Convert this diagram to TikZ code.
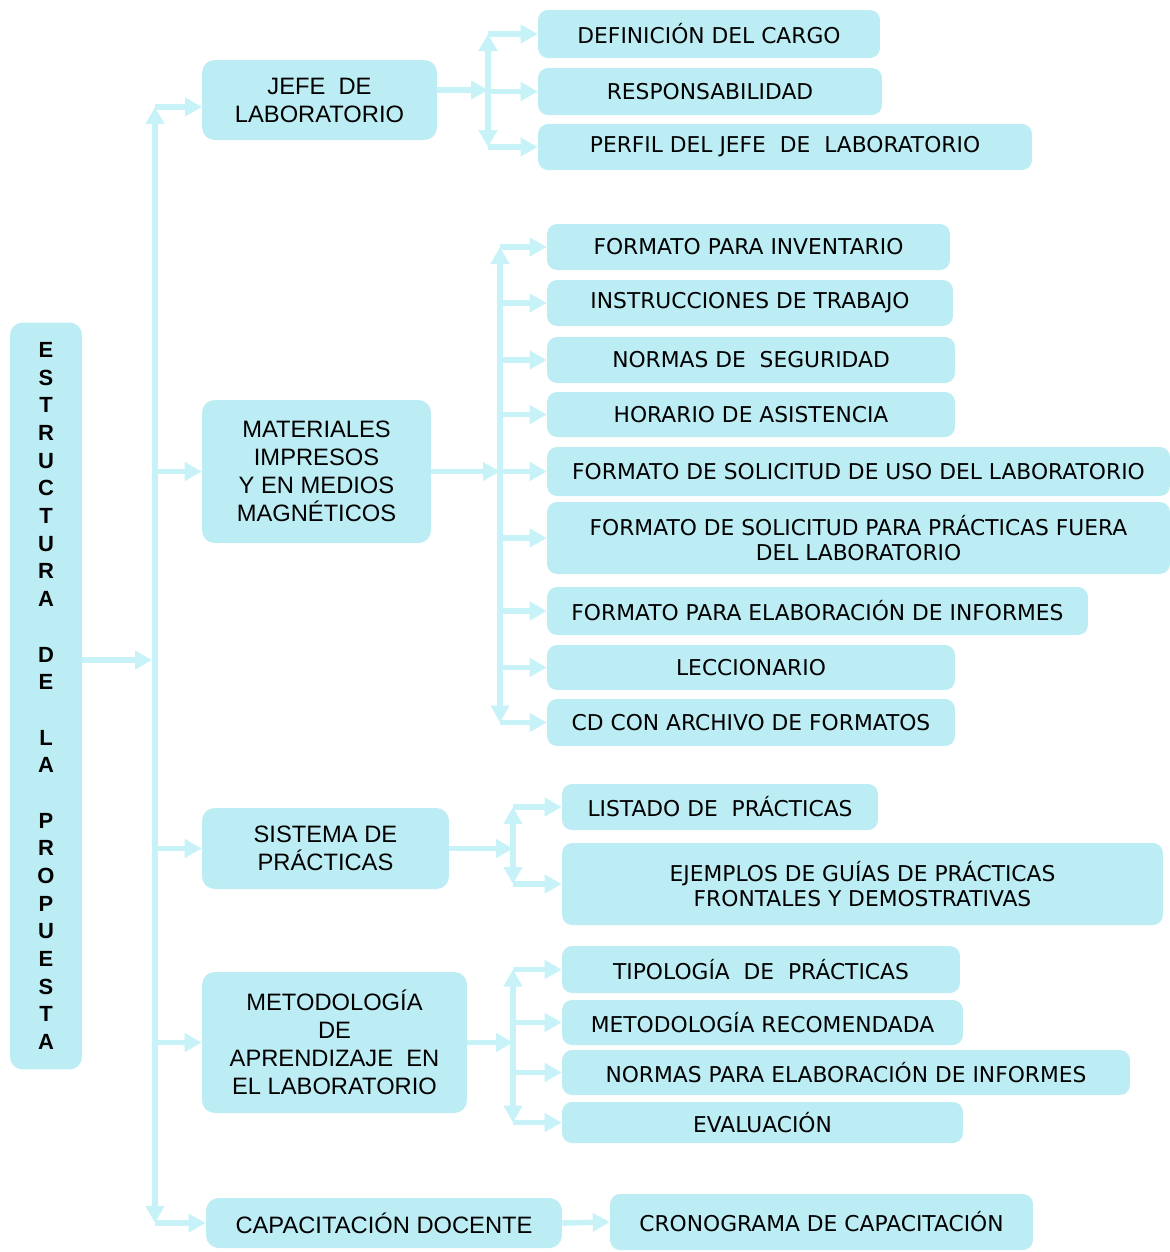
\documentclass[tikz,border=0pt]{standalone}
\usepackage{fontspec}
\newfontfamily\arialf{Liberation Sans}
\newfontfamily\verdf{DejaVu Sans}
\usetikzlibrary{arrows.meta}
\definecolor{boxcyan}{RGB}{189,237,244}
\definecolor{arrowcyan}{RGB}{198,242,248}
\tikzset{
  mainbox/.style={fill=boxcyan, rounded corners=0.25cm, align=center, inner sep=0pt, font=\arialf\fontsize{13.5}{15.9}\selectfont},
  itembox/.style={fill=boxcyan, rounded corners=0.2cm, align=center, inner sep=0pt, font=\verdf\fontsize{12.4}{14.3}\selectfont},
  link/.style={arrowcyan, line width=0.11cm, -{Triangle[length=0.34cm,width=0.36cm]}},
  spine/.style={arrowcyan, line width=0.11cm, {Triangle[length=0.34cm,width=0.36cm]}-{Triangle[length=0.34cm,width=0.36cm]}},
}
\begin{document}
\begin{tikzpicture}[x=0.02cm, y={(0cm,-0.02cm)}]
    \useasboundingbox (0,0) rectangle (1170,1252);
    % left column
    \node[mainbox, minimum width=1.44cm, minimum height=14.94cm, font=\arialf\bfseries\fontsize{12.5}{15.76}\selectfont] (est) at (46,696)
        {E\\S\\T\\R\\U\\C\\T\\U\\R\\A\\~\\D\\E\\~\\L\\A\\~\\P\\R\\O\\P\\U\\E\\S\\T\\A};
    \node[mainbox, minimum width=4.7cm, minimum height=1.6cm] (jefe) at (319.5,100) {JEFE\ \ DE\\LABORATORIO};
    \node[mainbox, minimum width=4.58cm, minimum height=2.86cm] (mat) at (316.5,471.5) {MATERIALES\\IMPRESOS\\Y EN MEDIOS\\MAGNÉTICOS};
    \node[mainbox, minimum width=4.94cm, minimum height=1.62cm] (sis) at (325.5,848.5) {SISTEMA DE\\PRÁCTICAS};
    \node[mainbox, minimum width=5.3cm, minimum height=2.82cm] (met) at (334.5,1042.5) {METODOLOGÍA\\DE\\APRENDIZAJE\ \ EN\\EL LABORATORIO};
    \node[mainbox, minimum width=7.12cm, minimum height=1cm] (cap) at (384,1223) {CAPACITACIÓN DOCENTE};
    % jefe de laboratorio
    \node[itembox, minimum width=6.84cm, minimum height=0.96cm] (def) at (709,34) {DEFINICIÓN DEL CARGO};
    \node[itembox, minimum width=6.88cm, minimum height=0.94cm] (resp) at (710,91.5) {RESPONSABILIDAD};
    \node[itembox, minimum width=9.88cm, minimum height=0.92cm] (perf) at (785,147) {PERFIL DEL JEFE\ \ DE\ \ LABORATORIO};
    % materiales
    \node[itembox, minimum width=8.06cm, minimum height=0.92cm] (inv) at (748.5,247) {FORMATO PARA INVENTARIO};
    \node[itembox, minimum width=8.12cm, minimum height=0.92cm] (instr) at (750,303) {INSTRUCCIONES DE TRABAJO};
    \node[itembox, minimum width=8.16cm, minimum height=0.92cm] (seg) at (751,360) {NORMAS DE\ \ SEGURIDAD};
    \node[itembox, minimum width=8.16cm, minimum height=0.9cm] (hor) at (751,414.5) {HORARIO DE ASISTENCIA};
    \node[itembox, minimum width=12.46cm, minimum height=0.98cm] (uso) at (858.5,471.5) {FORMATO DE SOLICITUD DE USO DEL LABORATORIO};
    \node[itembox, minimum width=12.46cm, minimum height=1.44cm] (fuera) at (858.5,538) {FORMATO DE SOLICITUD PARA PRÁCTICAS FUERA\\DEL LABORATORIO};
    \node[itembox, minimum width=10.82cm, minimum height=0.96cm] (inf) at (817.5,611) {FORMATO PARA ELABORACIÓN DE INFORMES};
    \node[itembox, minimum width=8.16cm, minimum height=0.9cm] (lec) at (751,667.5) {LECCIONARIO};
    \node[itembox, minimum width=8.16cm, minimum height=0.94cm] (cd) at (751,722.5) {CD CON ARCHIVO DE FORMATOS};
    % sistema de practicas
    \node[itembox, minimum width=6.32cm, minimum height=0.92cm] (list) at (720,807) {LISTADO DE\ \ PRÁCTICAS};
    \node[itembox, minimum width=12.02cm, minimum height=1.64cm] (ejem) at (862.5,884) {EJEMPLOS DE GUÍAS DE PRÁCTICAS\\FRONTALES Y DEMOSTRATIVAS};
    % metodologia
    \node[itembox, minimum width=7.96cm, minimum height=0.94cm] (tipo) at (761,969.5) {TIPOLOGÍA\ \ DE\ \ PRÁCTICAS};
    \node[itembox, minimum width=8.02cm, minimum height=0.9cm] (reco) at (762.5,1022.5) {METODOLOGÍA RECOMENDADA};
    \node[itembox, minimum width=11.36cm, minimum height=0.9cm] (norm) at (846,1072.5) {NORMAS PARA ELABORACIÓN DE INFORMES};
    \node[itembox, minimum width=8.02cm, minimum height=0.82cm] (eval) at (762.5,1122.5) {EVALUACIÓN};
    % capacitacion
    \node[itembox, minimum width=8.46cm, minimum height=1.12cm] (cron) at (821.5,1222) {CRONOGRAMA DE CAPACITACIÓN};

    % spines
    \coordinate (trunk) at (155,0);
    \coordinate (tin) at (152,660);
    \coordinate (jin) at (202,107);
    \coordinate (jout) at (437,90);
    \coordinate (sj) at (488,0);
    \coordinate (sm) at (500,0);
    \coordinate (ss) at (513,0);
    \coordinate (sme) at (513,0);

    \draw[link] (est.east |- tin) -- (tin);
    \draw[spine] (trunk |- jin) -- (trunk |- cap.west);
    \draw[link] (trunk |- jin) -- (jin);
    \foreach \n in {mat,sis,met,cap}
        \draw[link] (trunk |- \n.west) -- (\n.west);

    \draw[link] (jout) -- (jout -| sj);
    \draw[spine] (sj |- def.west) -- (sj |- perf.west);
    \foreach \n in {def,resp,perf}
        \draw[link] (sj |- \n.west) -- (\n.west);

    \draw[link] (mat.east) -- (mat.east -| sm);
    \draw[spine] (sm |- inv.west) -- (sm |- cd.west);
    \foreach \n in {inv,instr,seg,hor,uso,fuera,inf,lec,cd}
        \draw[link] (sm |- \n.west) -- (\n.west);

    \draw[link] (sis.east) -- (sis.east -| ss);
    \draw[spine] (ss |- list.west) -- (ss |- ejem.west);
    \foreach \n in {list,ejem}
        \draw[link] (ss |- \n.west) -- (\n.west);

    \draw[link] (met.east) -- (met.east -| sme);
    \draw[spine] (sme |- tipo.west) -- (sme |- eval.west);
    \foreach \n in {tipo,reco,norm,eval}
        \draw[link] (sme |- \n.west) -- (\n.west);

    \draw[link] (cap.east) -- (cron.west);
\end{tikzpicture}
\end{document}
